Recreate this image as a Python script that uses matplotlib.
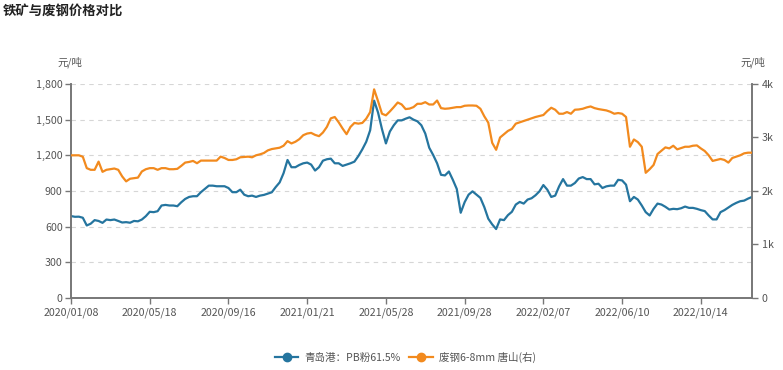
import matplotlib
matplotlib.use('Agg')
import matplotlib.pyplot as plt
from matplotlib.ticker import FuncFormatter
from matplotlib.lines import Line2D

plt.rcParams['font.family'] = ['Noto Sans CJK SC', 'DejaVu Sans']

title = '铁矿与废钢价格对比'
unit = '元/吨'
series_names = ['青岛港：PB粉61.5%', '废钢6-8mm 唐山(右)']
tick_labels = ['2020/01/08', '2020/05/18', '2020/09/16', '2021/01/21', '2021/05/28',
               '2021/09/28', '2022/02/07', '2022/06/10', '2022/10/14']
tick_step = 20

# 青岛港 PB粉 (元/吨, 左轴)
iron_ore = [689, 683, 684, 675, 610, 625, 655, 648, 632, 660,
            655, 660, 648, 635, 638, 633, 648, 645, 660, 688,
            725, 722, 730, 778, 783, 778, 778, 772, 805, 833,
            850, 856, 856, 890, 917, 945, 945, 940, 940, 940,
            925, 890, 890, 911, 869, 856, 861, 850, 861, 867,
            878, 889, 933, 972, 1050, 1161, 1100, 1100, 1119, 1133,
            1139, 1122, 1072, 1100, 1155, 1167, 1172, 1133, 1133, 1111,
            1122, 1133, 1147, 1194, 1250, 1314, 1411, 1660, 1560, 1420,
            1300, 1400, 1453, 1494, 1494, 1508, 1520, 1500, 1486, 1453,
            1383, 1264, 1203, 1133, 1036, 1031, 1064, 994, 917, 717,
            806, 869, 897, 869, 842, 764, 667, 619, 580, 661,
            655, 697, 725, 786, 808, 794, 828, 839, 864, 897,
            950, 911, 850, 861, 939, 1000, 945, 945, 967, 1005,
            1017, 1000, 1000, 956, 961, 925, 939, 945, 945, 994,
            989, 953, 814, 850, 828, 778, 722, 694, 750, 794,
            786, 767, 744, 750, 747, 755, 769, 758, 758, 750,
            739, 731, 694, 661, 661, 722, 739, 761, 783, 800,
            814, 819, 836, 850]

# 废钢 6-8mm 唐山 (元/吨, 右轴)
scrap = [2667, 2667, 2667, 2640, 2427, 2396, 2396, 2549, 2358, 2396,
         2407, 2420, 2396, 2272, 2180, 2229, 2240, 2250, 2365, 2407,
         2427, 2427, 2396, 2427, 2427, 2407, 2407, 2414, 2469, 2531,
         2543, 2562, 2519, 2568, 2568, 2568, 2568, 2568, 2642, 2617,
         2580, 2580, 2593, 2630, 2636, 2642, 2630, 2667, 2685, 2710,
         2759, 2784, 2796, 2809, 2846, 2932, 2889, 2920, 2969, 3043,
         3074, 3086, 3049, 3025, 3093, 3198, 3358, 3383, 3284, 3167,
         3062, 3198, 3272, 3259, 3272, 3352, 3475, 3900, 3679, 3444,
         3414, 3487, 3568, 3654, 3617, 3531, 3540, 3568, 3630, 3630,
         3660, 3617, 3617, 3691, 3549, 3537, 3543, 3556, 3568, 3568,
         3593, 3598, 3598, 3593, 3537, 3395, 3278, 2900, 2770, 3000,
         3062, 3123, 3160, 3259, 3284, 3309, 3333, 3358, 3383, 3401,
         3420, 3494, 3556, 3519, 3444, 3444, 3475, 3444, 3519, 3524,
         3537, 3562, 3580, 3549, 3531, 3519, 3506, 3481, 3444, 3457,
         3444, 3383, 2827, 2963, 2914, 2827, 2340, 2407, 2487, 2691,
         2753, 2815, 2796, 2846, 2778, 2802, 2827, 2827, 2846, 2852,
         2796, 2747, 2667, 2562, 2580, 2599, 2580, 2531, 2617, 2642,
         2667, 2704, 2716, 2716]

left_ticks = [0, 300, 600, 900, 1200, 1500, 1800]
right_ticks = [0, 1000, 2000, 3000, 4000]
right_labels = ['0', '1k', '2k', '3k', '4k']

BLUE = '#25759f'
ORANGE = '#f28a1e'
AXC = '#777777'
TXT = '#555555'

fig = plt.figure(figsize=(7.83, 3.70), dpi=100)
ax = fig.add_axes([0.0907, 0.1946, 0.8697, 0.5784])
x = list(range(len(iron_ore)))
ax.plot(x, iron_ore, color=BLUE, lw=1.6, zorder=3)
ax2 = ax.twinx()
ax2.plot(x, scrap, color=ORANGE, lw=1.6, zorder=3)

ax.set_xlim(0, len(iron_ore) - 1)
ax.set_ylim(0, 1800)
ax.set_yticks(left_ticks)
ax.yaxis.set_major_formatter(FuncFormatter(lambda v, p: f'{int(v):,}'))
ax2.set_ylim(0, 4000)
ax2.set_yticks(right_ticks)
ax2.set_yticklabels(right_labels)
ax.set_xticks([i * tick_step for i in range(len(tick_labels))])
ax.set_xticklabels(tick_labels)

ax.grid(axis='y', ls=(0, (4, 4)), color='#d6d6d6', lw=0.8, zorder=0)
ax.set_axisbelow(True)

for a in (ax, ax2):
    a.spines['top'].set_visible(False)
    for s in ('left', 'right', 'bottom'):
        a.spines[s].set_color(AXC)
        a.spines[s].set_linewidth(1.2)
    a.tick_params(colors=AXC, labelcolor=TXT, labelsize=7.7, length=4, width=1)
ax.tick_params(axis='x', pad=3)
ax.tick_params(axis='y', pad=2)
ax2.tick_params(axis='y', pad=3)

fig.text(0.004, 0.968, title, fontsize=9.6, fontweight='bold', va='center', ha='left', color='#222222')
fig.text(0.0894, 0.832, unit, fontsize=7.5, va='center', ha='center', color=TXT)
fig.text(0.962, 0.831, unit, fontsize=7.5, va='center', ha='center', color=TXT)

handles = [Line2D([0], [0], color=BLUE, lw=1.6, marker='o', markersize=6),
           Line2D([0], [0], color=ORANGE, lw=1.6, marker='o', markersize=6)]
fig.legend(handles, series_names, loc='center', bbox_to_anchor=(0.518, 0.035), ncol=2,
           frameon=False, fontsize=7.6, handlelength=2.2, handletextpad=0.6,
           columnspacing=0.8, numpoints=1, labelcolor=TXT)

fig.savefig('out.png', dpi=100)
